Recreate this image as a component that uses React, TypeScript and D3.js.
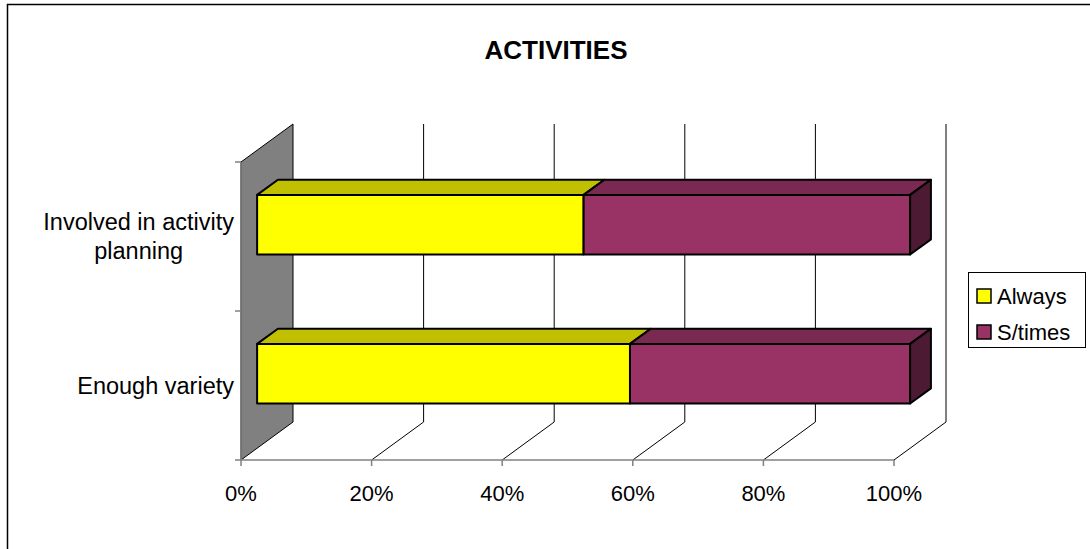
import React from "react";
import * as d3 from "d3";

const categories = ["Involved in activity planning", "Enough variety"];
const categoryLines = [["Involved in activity", "planning"], ["Enough variety"]];
const seriesNames = ["Always", "S/times"];
const always = [50, 57.1];
const sometimes = [50, 42.9];
const tickValues = [0, 20, 40, 60, 80, 100];
const tickLabels = ["0%", "20%", "40%", "60%", "80%", "100%"];

const W = 1090;
const H = 549;
const FONT = "'Liberation Sans', Arial, sans-serif";
const CAT_FS = 23.5;

const frontColors = ["#FFFF00", "#993366"];
const topColors = ["#C0C000", "#7A2952"];
const sideColors = ["#A0A000", "#4D1A33"];

export default function App() {
  const x = d3.scaleLinear().domain([0, 100]).range([241, 894]);
  const y = d3
    .scaleBand<string>()
    .domain(categories)
    .range([162, 460])
    .paddingInner(0.6)
    .paddingOuter(0.3);
  const yAxis = d3.scaleBand<string>().domain(categories).range([162, 460]);
  const DX = 52;
  const DY = -38;
  const P = (v: number, yy: number, d: number): [number, number] => [x(v) + DX * d, yy + DY * d];
  const poly = (pts: [number, number][]) => pts.map((p) => p.join(",")).join(" ");
  const d0 = 0.31;
  const d1 = 0.71;
  const yTop = 162;
  const yBot = 460;

  const series = [always, sometimes];
  const ctx = typeof document !== "undefined" ? document.createElement("canvas").getContext("2d") : null;

  return (
    <svg width={W} height={H} style={{ position: "absolute", left: 0, top: 0, background: "#fff" }} fontFamily={FONT}>
      <rect x={7.5} y={4.5} width={W + 20} height={H + 20} fill="#fff" stroke="#000" strokeWidth={1.5} />
      <text x={556} y={59} textAnchor="middle" fontWeight="bold" fontSize={26}>ACTIVITIES</text>

      {/* wall */}
      <polygon points={poly([P(0, yTop, 0), P(0, yTop, 1), P(0, yBot, 1), P(0, yBot, 0)])} fill="#808080" stroke="#000" strokeWidth={1} />
      {/* back gridlines */}
      {tickValues.slice(1).map((t) => {
        const a = P(t, yTop, 1);
        const b = P(t, yBot, 1);
        return <line key={"g" + t} x1={a[0]} y1={a[1]} x2={b[0]} y2={b[1]} stroke="#000" strokeWidth={1} />;
      })}
      {/* floor diagonals */}
      {tickValues.slice(1).map((t) => {
        const a = P(t, yBot, 0);
        const b = P(t, yBot, 1);
        return <line key={"f" + t} x1={a[0]} y1={a[1]} x2={b[0]} y2={b[1]} stroke="#000" strokeWidth={1} />;
      })}
      {/* front axis */}
      <line x1={x(0)} y1={yBot} x2={x(100)} y2={yBot} stroke="#808080" strokeWidth={1.5} />
      {tickValues.map((t) => (
        <line key={"t" + t} x1={x(t)} y1={yBot} x2={x(t)} y2={yBot + 6} stroke="#808080" strokeWidth={1.5} />
      ))}
      <line x1={x(0)} y1={yTop} x2={x(0)} y2={yBot} stroke="#808080" strokeWidth={1.5} />
      {[...categories.map((c) => yAxis(c)!), yBot].map((yy, i) => (
        <line key={"ct" + i} x1={x(0) - 6} y1={yy} x2={x(0)} y2={yy} stroke="#808080" strokeWidth={1.5} />
      ))}
      {tickValues.map((t, i) => (
        <text key={"tl" + t} x={x(t)} y={501} textAnchor="middle" fontSize={22}>{tickLabels[i]}</text>
      ))}
      {categories.map((c, ci) => {
        const lines = categoryLines[ci];
        const cy = yAxis(c)! + yAxis.bandwidth() / 2;
        const lh = 29;
        let maxW = 0;
        lines.forEach((l) => {
          if (ctx) {
            ctx.font = `${CAT_FS}px ${FONT}`;
            maxW = Math.max(maxW, ctx.measureText(l).width);
          } else {
            maxW = Math.max(maxW, l.length * CAT_FS * 0.5);
          }
        });
        const right = x(0) - 7;
        const cx = right - maxW / 2;
        return lines.map((l, li) => (
          <text key={c + li} x={cx} y={cy + (li - (lines.length - 1) / 2) * lh + 8} textAnchor="middle" fontSize={CAT_FS}>{l}</text>
        ));
      })}

      {/* bars */}
      {categories.map((c, ci) => {
        const yt = y(c)!;
        const yb = yt + y.bandwidth();
        let acc = 0;
        const parts: React.ReactNode[] = [];
        series.forEach((s, si) => {
          const v0 = acc;
          const v1 = acc + s[ci];
          acc = v1;
          parts.push(
            <polygon key={"top" + si} points={poly([P(v0, yt, d0), P(v0, yt, d1), P(v1, yt, d1), P(v1, yt, d0)])} fill={topColors[si]} stroke="#000" strokeWidth={2} strokeLinejoin="round" />
          );
          parts.push(
            <polygon key={"front" + si} points={poly([P(v0, yt, d0), P(v1, yt, d0), P(v1, yb, d0), P(v0, yb, d0)])} fill={frontColors[si]} stroke="#000" strokeWidth={2} strokeLinejoin="round" />
          );
          if (si === series.length - 1) {
            parts.push(
              <polygon key={"side" + si} points={poly([P(v1, yt, d0), P(v1, yt, d1), P(v1, yb, d1), P(v1, yb, d0)])} fill={sideColors[si]} stroke="#000" strokeWidth={2} strokeLinejoin="round" />
            );
          }
        });
        return <g key={c}>{parts}</g>;
      })}

      {/* legend */}
      <rect x={968.5} y={272.5} width={117} height={75} fill="#fff" stroke="#000" strokeWidth={1} />
      {seriesNames.map((n, i) => (
        <g key={n}>
          <rect x={977} y={289 + i * 36} width={14} height={14} fill={frontColors[i]} stroke="#000" strokeWidth={1.5} />
          <text x={997} y={304 + i * 36} fontSize={22}>{n}</text>
        </g>
      ))}
    </svg>
  );
}
